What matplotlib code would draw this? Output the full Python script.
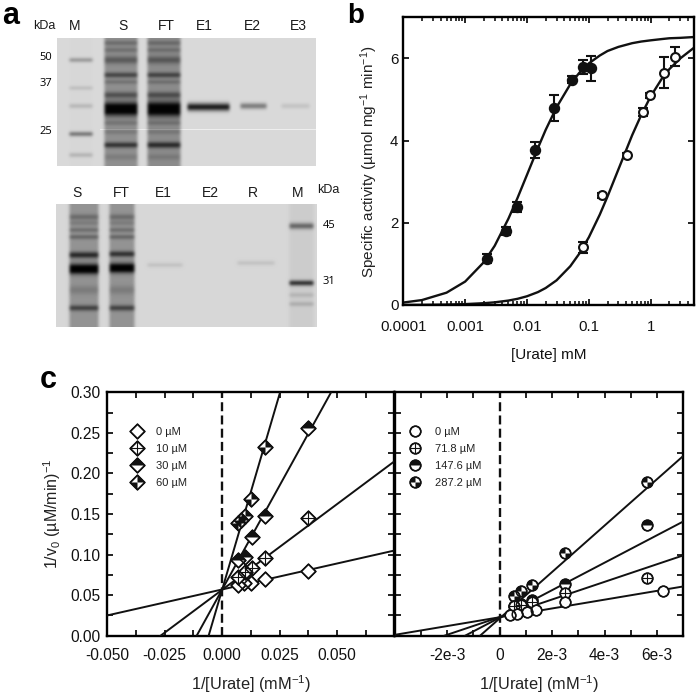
#!/usr/bin/env python3
"""Gel panels, Michaelis-Menten curves and double-reciprocal plots."""

import matplotlib
matplotlib.use("Agg")
import matplotlib.pyplot as plt
import numpy as np
from matplotlib.legend_handler import HandlerTuple
from matplotlib.lines import Line2D
from matplotlib.path import Path
from matplotlib.ticker import FixedLocator, FuncFormatter, NullFormatter

plt.rcParams["font.family"] = ["Liberation Sans", "DejaVu Sans"]
plt.rcParams["mathtext.default"] = "regular"

W, H = 697, 699

# gels: lane = (x0, x1, smear, [(y, darkness, half thickness), ...]) in image pixels
GEL1_BOX = (57, 38, 316, 166)
GEL1_BG = 0.85
GEL1_LANES = [
    (68, 94, 0.01, [(60, 0.36, 1.3), (88, 0.14, 1.2), (106, 0.18, 1.4), (134, 0.55, 1.4), (155, 0.2, 1.4)]),
    (103, 139, 0.36, [(43, 0.2, 1.5), (50, 0.18, 1.5), (60, 0.28, 2.5), (75, 0.42, 1.6), (82, 0.18, 1.2),
                      (95, 0.34, 2), (109, 1.0, 4.2), (123, 0.16, 1.4), (132, 0.13, 1.4),
                      (145, 0.52, 1.7), (157, 0.1, 2)]),
    (146, 182, 0.38, [(43, 0.2, 1.5), (50, 0.18, 1.5), (60, 0.28, 2.5), (75, 0.42, 1.6), (82, 0.18, 1.2),
                      (95, 0.34, 2), (109, 1.0, 4.5), (123, 0.16, 1.4), (132, 0.13, 1.4),
                      (145, 0.54, 1.9), (157, 0.1, 2)]),
    (186, 231, 0.0, [(107, 0.98, 2.6)]),
    (239, 268, 0.0, [(106, 0.5, 1.9)]),
    (280, 311, 0.0, [(106, 0.12, 1.6)]),
]
GEL1_STREAK_Y = 129
GEL1_STREAK_X0 = 100
GEL2_BOX = (56, 204, 317, 327)
GEL2_BG = 0.84
GEL2_LANES = [
    (68, 100, 0.33, [(217, 0.22, 1.8), (223, 0.13, 1.5), (230, 0.22, 1.3), (237, 0.27, 1.3),
                     (255, 0.58, 2), (269, 1.0, 3.2), (290, 0.12, 3), (308, 0.45, 1.8)]),
    (108, 136, 0.33, [(217, 0.22, 1.8), (223, 0.13, 1.5), (230, 0.22, 1.3), (237, 0.27, 1.3),
                      (254, 0.55, 1.8), (268, 1.0, 3.0), (290, 0.12, 3), (308, 0.45, 1.8)]),
    (146, 184, 0.0, [(265, 0.12, 1.3)]),
    (236, 276, 0.0, [(263, 0.12, 1.3)]),
    (288, 315, 0.05, [(226, 0.55, 2), (283, 0.85, 1.7), (295, 0.14, 1.4), (304, 0.18, 1.4)]),
]
GEL1_TOP = ["kDa", "M", "S", "FT", "E1", "E2", "E3"]
GEL1_TOP_X = [44, 75, 123, 166, 204, 252, 298]
GEL1_SIZES = ["50", "37", "25"]
GEL1_SIZES_Y = [57, 84, 132]
GEL2_TOP = ["S", "FT", "E1", "E2", "R", "M"]
GEL2_TOP_X = [77, 121, 163, 210, 253, 298]
GEL2_SIZES = ["45", "31"]
GEL2_SIZES_Y = [225, 282]

# panel b
filled_x = [0.00224, 0.0045, 0.0068, 0.0135, 0.027, 0.054, 0.08, 0.107]
filled_y = [1.13, 1.80, 2.38, 3.77, 4.79, 5.48, 5.80, 5.76]
filled_err = [0.10, 0.10, 0.12, 0.20, 0.32, 0.08, 0.17, 0.31]
open_x = [0.08, 0.16, 0.41, 0.74, 0.96, 1.64, 2.45]
open_y = [1.40, 2.67, 3.64, 4.70, 5.10, 5.65, 6.04]
open_err = [0.14, 0.06, 0.05, 0.10, 0.07, 0.38, 0.23]
curve_x = [1e-4, 2e-4, 5e-4, 1e-3, 2e-3, 3e-3, 5e-3, 7e-3, 0.01, 0.015, 0.02, 0.03, 0.05,
           0.07, 0.1, 0.15, 0.2, 0.3, 0.5, 0.7, 1, 1.5, 2, 3, 5]
curve_filled = [0.06, 0.12, 0.30, 0.57, 1.04, 1.44, 2.10, 2.60, 3.17, 3.82, 4.26, 4.81, 5.37,
                5.65, 5.88, 6.07, 6.18, 6.28, 6.37, 6.41, 6.44, 6.47, 6.49, 6.50, 6.52]
curve_open = [0.002, 0.004, 0.011, 0.022, 0.044, 0.065, 0.108, 0.15, 0.213, 0.314, 0.413, 0.60, 0.943,
              1.25, 1.65, 2.20, 2.64, 3.30, 4.13, 4.62, 5.08, 5.50, 5.74, 6.00, 6.26]

# panel c, left
left_labels = ["0 µM", "10 µM", "30 µM", "60 µM"]
left_x = [
    [0.0375, 0.0188, 0.0125, 0.0094, 0.0069],
    [0.0375, 0.0188, 0.0128, 0.0100, 0.0068],
    [0.0375, 0.0188, 0.0128, 0.0100, 0.0068],
    [0.0188, 0.0125, 0.0100, 0.0083, 0.0068],
]
left_y = [
    [0.080, 0.070, 0.065, 0.065, 0.0625],
    [0.1455, 0.0953, 0.083, 0.079, 0.072],
    [0.2565, 0.148, 0.122, 0.0966, 0.0933],
    [0.233, 0.169, 0.148, 0.1425, 0.139],
]
left_line_x = [[-0.05, 0.075], [-0.0268, 0.075], [-0.0111, 0.0474], [-0.0059, 0.0252]]
left_line_y = [[0.025, 0.105], [0.0, 0.215], [0.0, 0.30], [0.0, 0.30]]

# panel c, right
right_labels = ["0 µM", "71.8 µM", "147.6 µM", "287.2 µM"]
right_x = [
    [6.24e-3, 2.5e-3, 1.39e-3, 1.03e-3, 0.66e-3, 0.39e-3],
    [5.63e-3, 2.5e-3, 1.25e-3, 0.82e-3, 0.56e-3],
    [5.63e-3, 2.5e-3, 1.25e-3, 0.82e-3, 0.56e-3],
    [5.63e-3, 2.5e-3, 1.25e-3, 0.82e-3, 0.56e-3],
]
right_y = [
    [0.055, 0.041, 0.032, 0.029, 0.0267, 0.025],
    [0.0714, 0.0525, 0.042, 0.038, 0.036],
    [0.1366, 0.064, 0.0443, 0.0394, 0.036],
    [0.190, 0.102, 0.063, 0.055, 0.049],
]
right_line_x = [[-4e-3, 7e-3], [-2.1e-3, 7e-3], [-1.31e-3, 7e-3], [-0.74e-3, 7e-3]]
right_line_y = [[0.001, 0.0607], [0.0, 0.099], [0.0, 0.1408], [0.0, 0.2216]]

DIAMOND = Path([(1, 0), (0, 1), (-1, 0), (0, -1), (1, 0)], closed=True)
DIAMOND_Q1 = Path([(0, 0), (1, 0), (0, 1), (0, 0)], closed=True)
DIAMOND_Q3 = Path([(0, 0), (-1, 0), (0, -1), (0, 0)], closed=True)
DIAMOND_TOP = Path([(1, 0), (0, 1), (-1, 0), (1, 0)], closed=True)
CROSS_D = Path([(-0.72, 0), (0.72, 0), (0, -0.72), (0, 0.72)],
               [Path.MOVETO, Path.LINETO, Path.MOVETO, Path.LINETO])
CIRCLE_TOP = Path.wedge(0, 180)
CROSS_C = Path([(-1, 0), (1, 0), (0, -1), (0, 1)],
               [Path.MOVETO, Path.LINETO, Path.MOVETO, Path.LINETO])


def axes_px(x0, y0, x1, y1):
    return fig.add_axes([x0 / W, 1 - y1 / H, (x1 - x0) / W, (y1 - y0) / H])


def fig_text(x, y, s, **kw):
    kw.setdefault("ha", "center")
    kw.setdefault("va", "center")
    kw.setdefault("color", "#1a1a1a")
    fig.text(x / W, 1 - y / H, s, **kw)


def blur(img, sigma):
    radius = int(3 * sigma) + 1
    kernel = np.exp(-0.5 * (np.arange(-radius, radius + 1) / sigma) ** 2)
    kernel /= kernel.sum()
    pad = np.pad(img, radius, mode="edge")
    pad = np.apply_along_axis(lambda r: np.convolve(r, kernel, mode="same"), 0, pad)
    pad = np.apply_along_axis(lambda r: np.convolve(r, kernel, mode="same"), 1, pad)
    return pad[radius:-radius, radius:-radius]


def draw_gel(box, bg, lanes, streak_y=None, streak_x0=0):
    x0, y0, x1, y1 = box
    xs = np.arange(x0, x1) + 0.5
    ys = np.arange(y0, y1) + 0.5
    dark = np.zeros((len(ys), len(xs)))
    for lx0, lx1, smear, bands in lanes:
        edge = np.clip((xs - lx0) / 3, 0, 1) * np.clip((lx1 - xs) / 3, 0, 1)
        prof = np.full(len(ys), smear)
        for by, amount, half in bands:
            prof = prof + amount * np.exp(-0.5 * ((ys - by) / half) ** 2)
        dark += np.outer(np.clip(prof, 0, 1.05), edge)
    img = blur(np.clip(bg - 0.8 * dark, 0, 1), 1.2)
    if streak_y is not None:
        img[streak_y - y0, xs >= streak_x0] += 0.08
    ax = axes_px(x0, y0, x1, y1)
    ax.imshow(np.clip(img, 0, 1), cmap="gray", vmin=0, vmax=1, aspect="auto",
              interpolation="bilinear", extent=(x0, x1, y1, y0))
    ax.axis("off")
    return ax


def line_marks(ax, x, y, shape, ms=10.5, z=4):
    """White base marker, black parts on top, outline last. Returns the legend handles."""
    handles = []
    parts = [(shape[0], "white", 1.1)] + [(p, "#111111", 0.0) for p in shape[1]] + \
            [(p, "none", 0.8) for p in shape[2]] + [(shape[0], "none", 1.1)]
    for i, (marker, face, mew) in enumerate(parts):
        ax.plot(x, y, ls="none", marker=marker, ms=ms, mfc=face, mec="#111111", mew=mew,
                zorder=z + i * 0.01, clip_on=False)
        handles.append(Line2D([], [], ls="none", marker=marker, ms=ms, mfc=face, mec="#111111", mew=mew))
    return tuple(handles)


def style_c(ax):
    for s in ax.spines.values():
        s.set_linewidth(1.7)
    ax.set_ylim(0, 0.30)
    ax.yaxis.set_major_locator(FixedLocator(np.arange(0, 0.31, 0.05)))
    ax.yaxis.set_minor_locator(FixedLocator(np.arange(0.025, 0.3, 0.05)))
    ax.tick_params(which="both", direction="in", top=True, right=True, width=1.3, length=4.2, labelsize=11.2,
                   colors="#111111")
    ax.tick_params(axis="x", which="both", pad=9)
    ax.tick_params(axis="y", which="both", pad=5)
    ax.axvline(0, color="#111111", lw=1.7, dashes=(3.8, 1.8), zorder=2)


fig = plt.figure(figsize=(W / 100, H / 100), dpi=100)

# panel a
draw_gel(GEL1_BOX, GEL1_BG, GEL1_LANES, GEL1_STREAK_Y, GEL1_STREAK_X0)
draw_gel(GEL2_BOX, GEL2_BG, GEL2_LANES)
for s, x in zip(GEL1_TOP, GEL1_TOP_X):
    fig_text(x, 26, s, fontsize=9 if s == "kDa" else 10)
for s, y in zip(GEL1_SIZES, GEL1_SIZES_Y):
    fig_text(46, y, s, fontsize=8, family=["Open Sans", "DejaVu Sans"], color="black")
for s, x in zip(GEL2_TOP, GEL2_TOP_X):
    fig_text(x, 193, s, fontsize=10)
fig_text(328, 190, "kDa", fontsize=9)
for s, y in zip(GEL2_SIZES, GEL2_SIZES_Y):
    fig_text(329, y, s, fontsize=8, family=["Open Sans", "DejaVu Sans"], color="black")
fig_text(2, 24, "a", fontsize=22, fontweight="bold", ha="left", va="baseline", color="black")
fig_text(347, 23, "b", fontsize=20, fontweight="bold", ha="left", va="baseline", color="black")
fig_text(40, 388, "c", fontsize=22, fontweight="bold", ha="left", va="baseline", color="black")

# panel b
ax = axes_px(403.3, 17.3, 694, 305)
ax.set_xscale("log")
ax.set_xlim(1e-4, 5)
ax.set_ylim(0, 7)
ax.plot(curve_x, curve_filled, color="#111111", lw=1.7, zorder=2)
ax.plot(curve_x, curve_open, color="#111111", lw=1.7, zorder=2)
ax.errorbar(filled_x, filled_y, yerr=filled_err, fmt="o", ms=7.2, mfc="#111111", mec="#111111",
            ecolor="#111111", elinewidth=1.5, capsize=3.3, capthick=1.5, zorder=3)
ax.errorbar(open_x, open_y, yerr=open_err, fmt="o", ms=6.4, mfc="white", mec="#111111", mew=1.5,
            ecolor="#111111", elinewidth=1.5, capsize=3.3, capthick=1.5, zorder=3)
for s in ax.spines.values():
    s.set_linewidth(1.7)
ax.set_xticks([1e-4, 1e-3, 1e-2, 1e-1, 1])
ax.set_xticklabels(["0.0001", "0.001", "0.01", "0.1", "1"])
ax.xaxis.set_minor_formatter(NullFormatter())
ax.set_yticks([0, 2, 4, 6])
ax.tick_params(which="major", direction="in", top=True, right=True, width=1.3, length=4.5, labelsize=10.8,
               colors="#111111")
ax.tick_params(axis="x", which="major", pad=11)
ax.tick_params(which="minor", direction="in", top=True, width=1.1, length=3)
ax.set_xlabel("[Urate] mM", fontsize=11, labelpad=10, color="#111111")
ax.set_ylabel("Specific activity (µmol mg$^{-1}$ min$^{-1}$)", fontsize=11, labelpad=7, color="#222222")

# panel c, left
ax1 = axes_px(107.3, 392.3, 394.5, 635.7)
ax1.set_xlim(-0.05, 0.075)
ax1.xaxis.set_major_locator(FixedLocator([-0.05, -0.025, 0, 0.025, 0.05]))
ax1.xaxis.set_major_formatter(FuncFormatter(lambda v, p: f"{v:.3f}"))
ax1.xaxis.set_minor_locator(FixedLocator([-0.0375, -0.0125, 0.0125, 0.0375, 0.0625, 0.075]))
style_c(ax1)
for lx, ly in zip(left_line_x, left_line_y):
    ax1.plot(lx, ly, color="#111111", lw=1.4, zorder=3)
diamond_shapes = [
    (DIAMOND, [], []),
    (DIAMOND, [], [CROSS_D]),
    (DIAMOND, [DIAMOND_TOP], []),
    (DIAMOND, [DIAMOND_Q1, DIAMOND_Q3], []),
]
handles = [line_marks(ax1, x, y, sh, ms=10.5, z=4 + i * 0.1)
           for i, (x, y, sh) in enumerate(zip(left_x, left_y, diamond_shapes))]
ax1.legend(handles, left_labels, handler_map={tuple: HandlerTuple(ndivide=1, pad=0)}, frameon=False,
           loc="upper left", bbox_to_anchor=(0.079, 0.858), borderaxespad=0, borderpad=0, fontsize=8,
           labelspacing=0.62, handlelength=1.3, handletextpad=1.05, labelcolor="#222222")
ax1.set_xlabel("1/[Urate] (mM$^{-1}$)", fontsize=11.8, labelpad=7, color="#222222")
ax1.set_ylabel("1/v$_0$ (µM/min)$^{-1}$", fontsize=11.5, labelpad=5, color="#222222")
ax1.yaxis.set_major_formatter(FuncFormatter(lambda v, p: f"{v:.2f}"))

# panel c, right
ax2 = axes_px(394.5, 392.3, 683.3, 635.7)
ax2.set_xlim(-4e-3, 7e-3)
ax2.xaxis.set_major_locator(FixedLocator([-2e-3, 0, 2e-3, 4e-3, 6e-3]))
ax2.xaxis.set_major_formatter(FuncFormatter(
    lambda v, p: "0" if abs(v) < 1e-9 else f"{round(v * 1000)}e-3"))
ax2.xaxis.set_minor_locator(FixedLocator([-3e-3, -1e-3, 1e-3, 3e-3, 5e-3]))
style_c(ax2)
ax2.tick_params(axis="y", which="both", labelleft=False)
for lx, ly in zip(right_line_x, right_line_y):
    ax2.plot(lx, ly, color="#111111", lw=1.4, zorder=3)
circle_shapes = [
    ("o", [], []),
    ("o", [], [CROSS_C]),
    ("o", [CIRCLE_TOP], []),
    ("o", [Path.wedge(90, 180), Path.wedge(270, 360)], []),
]
# 0 uM sits on top of the others where they overlap
handles = [line_marks(ax2, x, y, sh, ms=7.6, z=4.4 - i * 0.1)
           for i, (x, y, sh) in enumerate(zip(right_x, right_y, circle_shapes))]
ax2.legend(handles, right_labels, handler_map={tuple: HandlerTuple(ndivide=1, pad=0)}, frameon=False,
           loc="upper left", bbox_to_anchor=(0.052, 0.858), borderaxespad=0, borderpad=0, fontsize=8,
           labelspacing=0.62, handlelength=1.0, handletextpad=1.3, labelcolor="#222222")
ax2.set_xlabel("1/[Urate] (mM$^{-1}$)", fontsize=11.8, labelpad=7, color="#222222")

fig.savefig("out.png", dpi=100)
